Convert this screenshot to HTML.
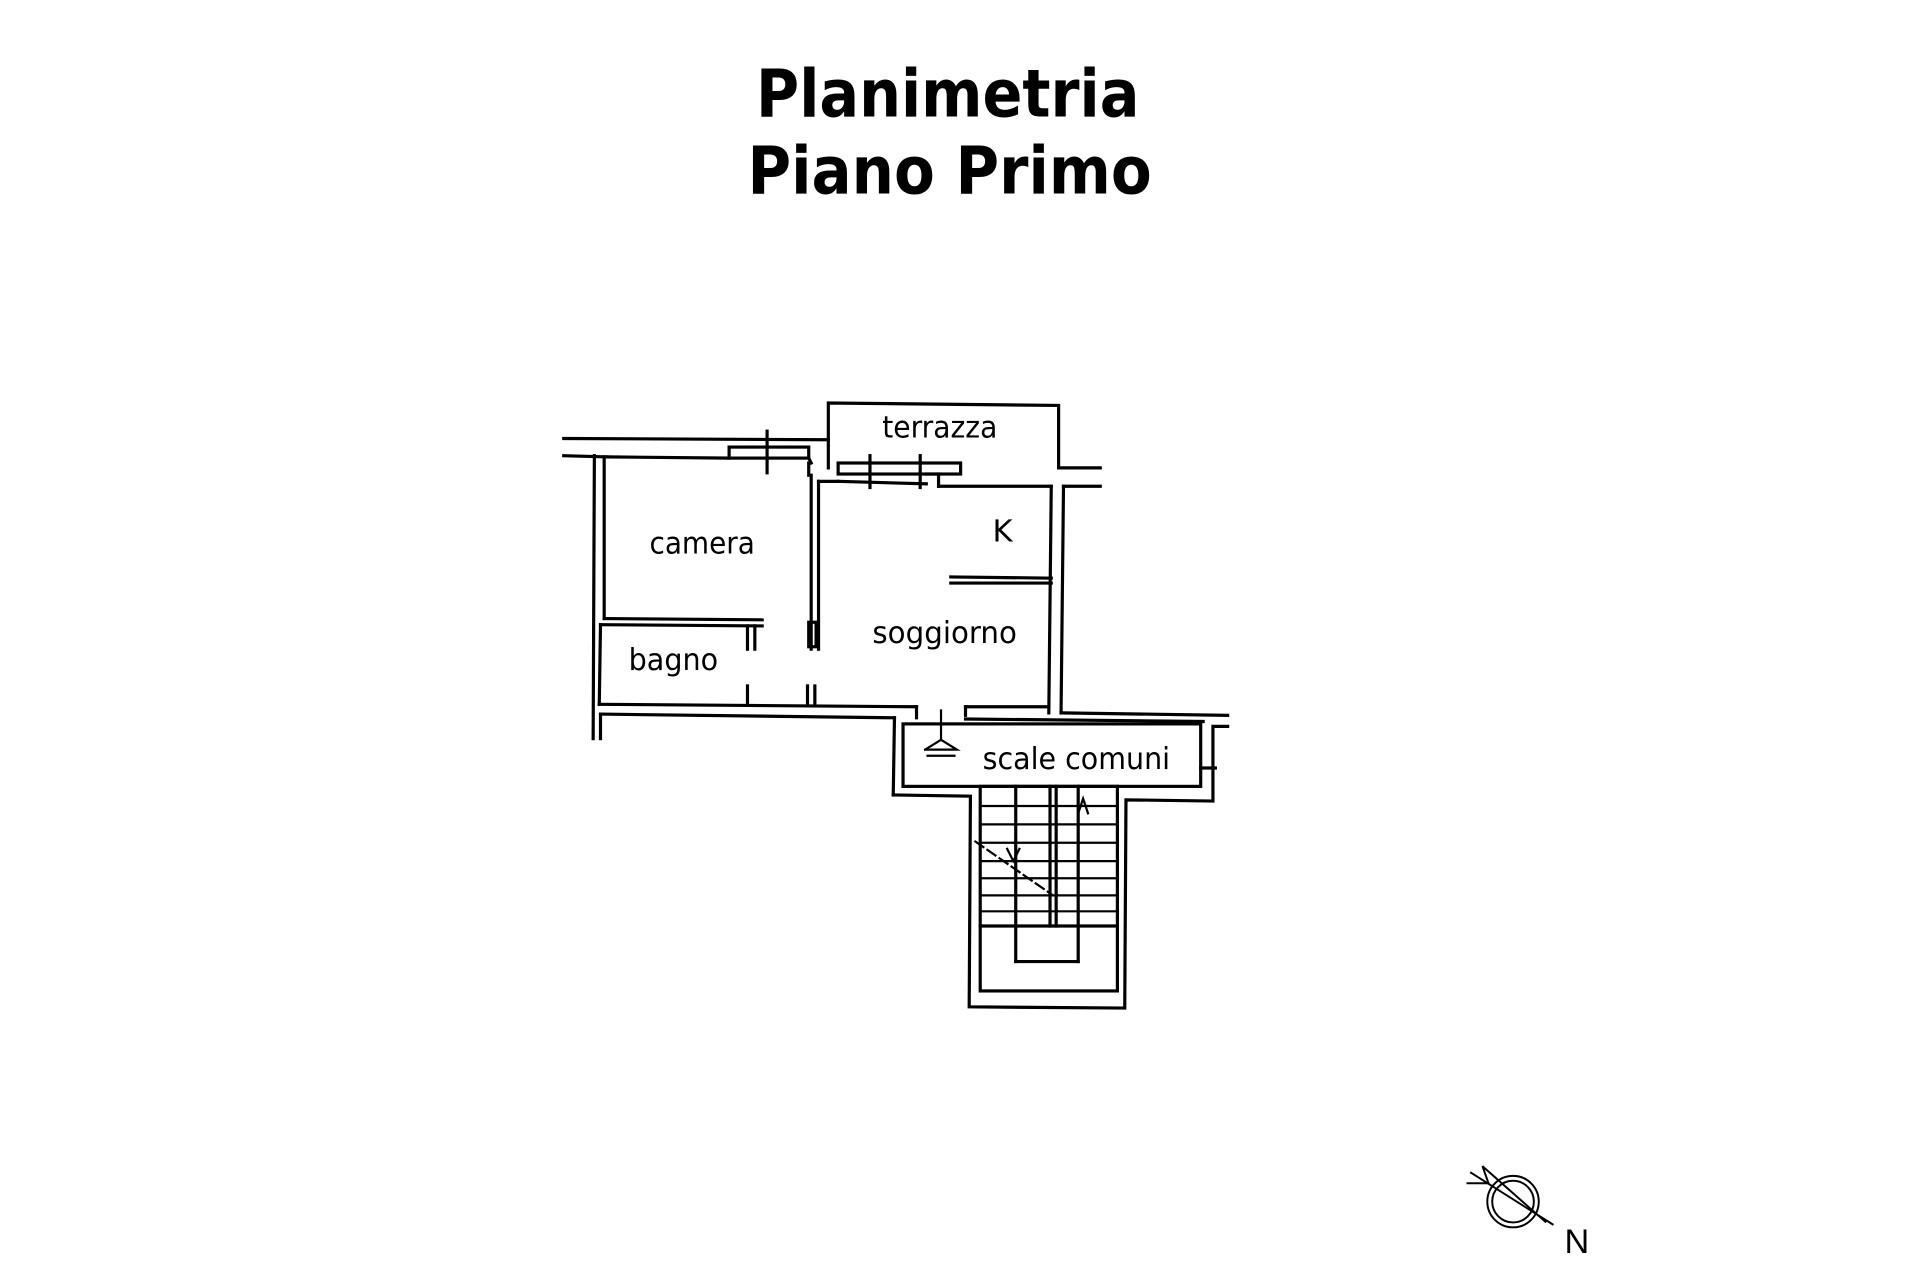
<!DOCTYPE html>
<html><head><meta charset="utf-8"><style>
html,body{margin:0;padding:0;background:#fff;}
svg{display:block}
</style></head><body>
<svg width="1920" height="1280" viewBox="0 0 1567 1045" xmlns="http://www.w3.org/2000/svg">
<rect width="1567" height="1045" fill="#fff"/>
<g font-family="'DejaVu Sans','Liberation Sans',sans-serif" font-weight="bold" font-size="54" fill="#000">
<text x="617" y="95" textLength="313" lengthAdjust="spacingAndGlyphs">Planimetria</text>
<text x="610" y="158" textLength="330" lengthAdjust="spacingAndGlyphs">Piano Primo</text>
</g>
<g stroke="#000" stroke-width="2.6" fill="none" stroke-linecap="square">
<line x1="460" y1="358" x2="676" y2="359"/>
<line x1="460" y1="372" x2="495" y2="373"/>
<line x1="495" y1="373" x2="595" y2="374"/>
<rect x="595" y="365" width="65" height="9"/>
<line x1="626" y1="352" x2="626" y2="386"/>
<line x1="660" y1="374" x2="662" y2="378"/>
<line x1="493" y1="373" x2="493" y2="505"/>
<line x1="485" y1="372" x2="484" y2="603"/>
<line x1="493" y1="505" x2="622" y2="506"/>
<line x1="490" y1="510" x2="622" y2="511"/>
<line x1="660" y1="378" x2="660" y2="388"/>
<line x1="662" y1="388" x2="662" y2="530"/>
<line x1="668" y1="393" x2="668" y2="530"/>
<rect x="660" y="508" width="6" height="20"/>
<polyline points="676,382 676,329 864,331 864,382"/>
<line x1="864" y1="382" x2="898" y2="382"/>
<rect x="684" y="378" width="100" height="9"/>
<line x1="668" y1="393" x2="684" y2="393"/>
<line x1="684" y1="393" x2="756" y2="395"/>
<line x1="756" y1="387" x2="766" y2="387"/>
<line x1="710" y1="372" x2="710" y2="398"/>
<line x1="751" y1="372" x2="751" y2="398"/>
<line x1="766" y1="387" x2="766" y2="397"/>
<line x1="766" y1="397" x2="858" y2="397"/>
<line x1="868" y1="397" x2="898" y2="397"/>
<line x1="858" y1="397" x2="856" y2="582"/>
<line x1="868" y1="397" x2="866" y2="582"/>
<line x1="776" y1="471" x2="858" y2="472"/>
<line x1="776" y1="476" x2="858" y2="476"/>
<line x1="490" y1="510" x2="489" y2="575"/>
<line x1="610" y1="511" x2="610" y2="530"/>
<line x1="616" y1="511" x2="616" y2="530"/>
<line x1="610" y1="560" x2="610" y2="575"/>
<line x1="659" y1="560" x2="659" y2="576"/>
<line x1="665" y1="560" x2="665" y2="576"/>
<line x1="489" y1="575" x2="748" y2="577"/>
<line x1="748" y1="577" x2="748" y2="586"/>
<line x1="788" y1="584" x2="788" y2="577"/>
<line x1="788" y1="577" x2="856" y2="577"/>
<line x1="866" y1="582" x2="1002" y2="584"/>
<line x1="490" y1="583" x2="730" y2="586"/>
<line x1="490" y1="583" x2="490" y2="603"/>
<line x1="730" y1="586" x2="729" y2="649"/>
<polyline points="729,649 792,650 791,822 918,823 919,653 990,654 990,593 1002,593"/>
<line x1="788" y1="587" x2="982" y2="589"/>
<rect x="737" y="591" width="243" height="51"/>
<line x1="980" y1="627" x2="992" y2="627"/>
<rect x="800" y="642" width="112" height="167"/>
<line x1="829" y1="642" x2="829" y2="785"/>
<line x1="857" y1="642" x2="857" y2="756"/>
<line x1="862" y1="642" x2="862" y2="756"/>
<line x1="880" y1="642" x2="880" y2="785"/>
<line x1="829" y1="785" x2="880" y2="785"/>
<line x1="800" y1="756" x2="912" y2="756"/>
<g stroke-width="1.8">
<line x1="802" y1="658" x2="910" y2="658"/>
<line x1="802" y1="673" x2="910" y2="673"/>
<line x1="802" y1="688" x2="910" y2="688"/>
<line x1="802" y1="703" x2="910" y2="703"/>
<line x1="802" y1="717" x2="910" y2="717"/>
<line x1="802" y1="731" x2="910" y2="731"/>
<line x1="802" y1="744" x2="910" y2="744"/>
<line x1="796" y1="687" x2="858" y2="730" stroke-dasharray="8,4"/>
<polyline points="822,693 827,703 832,693"/>
<polyline points="880,664 884,652 888,664"/>
<line x1="768" y1="580" x2="768" y2="604"/>
<polyline points="755,612 768,604 781,612 755,612"/>
<line x1="757" y1="617" x2="779" y2="617"/>
</g>
</g>
<g font-family="'DejaVu Sans','Liberation Sans',sans-serif" font-size="25" fill="#000">
<text x="720" y="357" textLength="94" lengthAdjust="spacingAndGlyphs">terrazza</text>
<text x="530" y="452" textLength="86" lengthAdjust="spacingAndGlyphs">camera</text>
<text x="810" y="442">K</text>
<text x="712" y="525" textLength="118" lengthAdjust="spacingAndGlyphs">soggiorno</text>
<text x="513" y="547" textLength="73" lengthAdjust="spacingAndGlyphs">bagno</text>
<text x="802" y="628" textLength="153" lengthAdjust="spacingAndGlyphs">scale comuni</text>
</g>
<g stroke="#000" stroke-width="1.6" fill="none">
<circle cx="1235" cy="981" r="21"/>
<circle cx="1235" cy="981" r="17"/>
<line x1="1200" y1="957" x2="1268" y2="1000"/>
<line x1="1210" y1="952" x2="1262" y2="998"/>
<polyline points="1197,966 1215,966 1210,952"/>
</g>
<text x="1277" y="1023" font-family="'Liberation Sans',sans-serif" font-size="28" fill="#000">N</text>
</svg>
</body></html>
